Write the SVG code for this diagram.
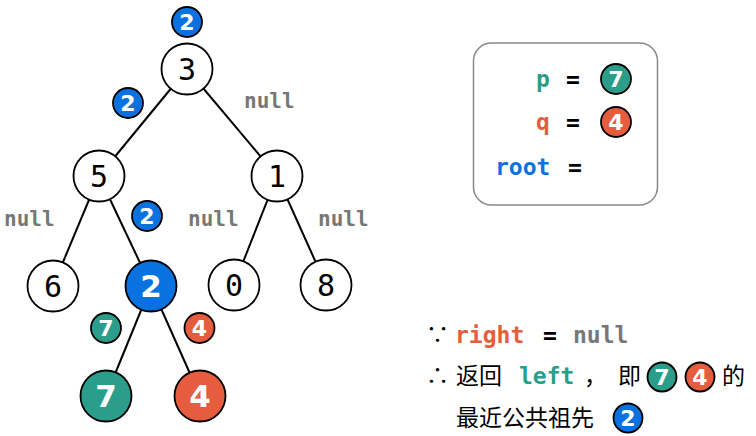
<svg xmlns="http://www.w3.org/2000/svg" width="756" height="436" viewBox="0 0 756 436">
<style>
.edge{stroke:#000;stroke-width:2;fill:none}
.node{fill:#fff;stroke:#000;stroke-width:1.8}
.blue{fill:#0a72e0;stroke:#000;stroke-width:1.8}
.teal{fill:#2a9d8b;stroke:#000;stroke-width:1.8}
.red{fill:#e55d3e;stroke:#000;stroke-width:1.8}
.nl{font-family:"DejaVu Sans Mono",monospace;font-size:30px;fill:#000;text-anchor:middle}
.wl{font-family:"DejaVu Sans","Noto Sans",sans-serif;font-weight:bold;font-size:31px;fill:#fff;text-anchor:middle}
.bl{font-family:"DejaVu Sans","Noto Sans",sans-serif;font-weight:bold;font-size:22px;fill:#fff;text-anchor:middle}
.null{font-family:"DejaVu Sans Mono",monospace;font-weight:bold;font-size:21px;fill:#777}
.code{font-family:"DejaVu Sans Mono",monospace;font-weight:bold;font-size:23px}
.cjk{font-family:"Noto Sans CJK SC",sans-serif;font-size:23px;fill:#000}
</style>
<rect width="756" height="436" fill="#fff"/>
<g id="connectors">
<line class="edge" x1="187" y1="69" x2="99" y2="176"/>
<line class="edge" x1="187" y1="69" x2="277" y2="176"/>
<line class="edge" x1="99" y1="176" x2="53" y2="286"/>
<line class="edge" x1="99" y1="176" x2="151" y2="286"/>
<line class="edge" x1="277" y1="176" x2="234" y2="285"/>
<line class="edge" x1="277" y1="176" x2="326" y2="285"/>
<line class="edge" x1="151" y1="286" x2="106" y2="396"/>
<line class="edge" x1="151" y1="286" x2="200" y2="396"/>
</g>
<g id="node-3"><circle class="node" cx="187" cy="69" r="25.5"/><text class="nl" x="187" y="80">3</text></g>
<g id="node-5"><circle class="node" cx="99" cy="176" r="25.5"/><text class="nl" x="99" y="187">5</text></g>
<g id="node-1"><circle class="node" cx="277" cy="176" r="25.5"/><text class="nl" x="277" y="187">1</text></g>
<g id="node-6"><circle class="node" cx="53" cy="286" r="25.5"/><text class="nl" x="53" y="297">6</text></g>
<g id="node-2"><circle class="blue" cx="151" cy="286" r="25.5"/><text class="wl" x="151" y="297">2</text></g>
<g id="node-0"><circle class="node" cx="234" cy="285" r="25.5"/><text class="nl" x="234" y="296">0</text></g>
<g id="node-8"><circle class="node" cx="326" cy="285" r="25.5"/><text class="nl" x="326" y="296">8</text></g>
<g id="node-7"><circle class="teal" cx="106" cy="396" r="25.5"/><text class="wl" x="106" y="407">7</text></g>
<g id="node-4"><circle class="red" cx="200" cy="396" r="25.5"/><text class="wl" x="200" y="407">4</text></g>
<g id="badges">
<circle class="blue" cx="187" cy="22" r="15"/><text class="bl" x="187" y="30">2</text>
<circle class="blue" cx="128" cy="103" r="15"/><text class="bl" x="128" y="111">2</text>
<circle class="blue" cx="147" cy="216" r="15"/><text class="bl" x="147" y="224">2</text>
<circle class="teal" cx="106" cy="328" r="15"/><text class="bl" x="106" y="336">7</text>
<circle class="red" cx="199.5" cy="328" r="15"/><text class="bl" x="199.5" y="336">4</text>
</g>
<g id="nulls">
<text class="null" x="244" y="108">null</text>
<text class="null" x="4" y="226">null</text>
<text class="null" x="188" y="226">null</text>
<text class="null" x="318" y="226">null</text>
</g>
<g id="legend">
<rect x="473.5" y="43" width="184" height="162" rx="18" fill="#fff" stroke="#888" stroke-width="1.5"/>
<text class="code" x="536" y="87" fill="#2a9d8b">p</text>
<text class="code" x="566" y="87" fill="#000">=</text>
<circle class="teal" cx="616" cy="79" r="15"/><text class="bl" x="616" y="87">7</text>
<text class="code" x="536" y="130" fill="#e55d3e">q</text>
<text class="code" x="566" y="130" fill="#000">=</text>
<circle class="red" cx="616" cy="122" r="15"/><text class="bl" x="616" y="130">4</text>
<text class="code" x="495" y="175" fill="#0a72e0">root</text>
<text class="code" x="568" y="175" fill="#000">=</text>
</g>
<g id="explanation">
<text class="cjk" x="426" y="343" font-size="20">∵</text>
<text class="code" x="455" y="343" fill="#e55d3e">right</text>
<text class="code" x="543" y="343" fill="#000">=</text>
<text class="code" x="573" y="343" fill="#777">null</text>
<text class="cjk" x="426" y="384" font-size="20">∴</text>
<text class="cjk" x="456" y="384">返回</text>
<text class="code" x="519" y="384" fill="#2a9d8b">left</text>
<text class="cjk" x="584" y="384">，</text>
<text class="cjk" x="618" y="384">即</text>
<circle class="teal" cx="662" cy="377" r="14.5"/><text class="bl" x="662" y="385">7</text>
<circle class="red" cx="700" cy="377" r="14.5"/><text class="bl" x="700" y="385">4</text>
<text class="cjk" x="722" y="384">的</text>
<text class="cjk" x="456" y="426">最近公共祖先</text>
<circle class="blue" cx="628" cy="418" r="14.5"/><text class="bl" x="628" y="426">2</text>
</g>
</svg>
